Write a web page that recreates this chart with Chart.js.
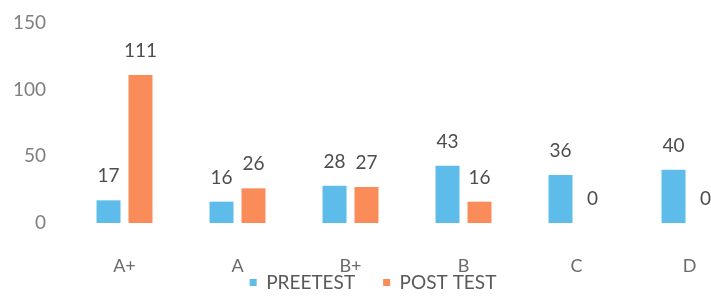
<!DOCTYPE html>
<html>
<head>
<meta charset="utf-8">
<script src="https://cdn.jsdelivr.net/npm/chart.js@4"></script>
<style>
  html, body { margin: 0; padding: 0; background: #fff; overflow: hidden; }
  #wrap { width: 750px; height: 297px; }
</style>
</head>
<body>
<div id="wrap"><canvas id="chart"></canvas></div>
<script>
const grades = ['A+', 'A', 'B+', 'B', 'C', 'D'];
const preTest = [17, 16, 28, 43, 36, 40];
const postTest = [111, 26, 27, 16, 0, 0];
const yTicks = [0, 50, 100, 150];

// draw the value above each bar
const valueLabels = {
  id: 'valueLabels',
  beforeDraw(chart) {
    // x labels sit lower than the squeezed axis box, so don't clip them
    chart.scales.x.bottom = chart.height;
  },
  afterDatasetsDraw(chart) {
    const ctx = chart.ctx;
    ctx.save();
    ctx.font = '19px Lato';
    ctx.fillStyle = '#4d4d4d';
    ctx.textAlign = 'center';
    ctx.textBaseline = 'middle';
    chart.data.datasets.forEach((ds, i) => {
      chart.getDatasetMeta(i).data.forEach((bar, j) => {
        ctx.fillText(ds.data[j], bar.x, bar.y - 24);
      });
    });
    ctx.restore();
  }
};

const ctx = document.getElementById('chart').getContext('2d');
new Chart(ctx, {
  type: 'bar',
  data: {
    labels: grades,
    datasets: [
      {
        label: 'PREETEST',
        data: preTest,
        backgroundColor: '#5dbce9',
        categoryPercentage: 0.566,
        barPercentage: 0.75,
      },
      {
        label: 'POST TEST',
        data: postTest,
        backgroundColor: '#fa8c5a',
        categoryPercentage: 0.566,
        barPercentage: 0.75,
      },
    ],
  },
  options: {
    responsive: true,
    maintainAspectRatio: false,
    animation: false,
    layout: { padding: { top: 0, right: 4, bottom: -5 } },
    plugins: {
      tooltip: { enabled: false },
      legend: {
        position: 'bottom',
        labels: {
          font: { family: 'Lato', size: 19 },
          color: '#595959',
          boxWidth: 7,
          boxHeight: 7,
          padding: 28,
        },
      },
    },
    scales: {
      x: {
        afterFit: (scale) => { scale.height = 22; },
        grid: { display: false, drawTicks: false },
        border: { display: false },
        ticks: { font: { family: 'Lato', size: 18 }, color: '#6b6b6b', padding: 32 },
      },
      y: {
        min: 0,
        max: 150,
        afterBuildTicks: (scale) => { scale.ticks = yTicks.map(v => ({ value: v })); },
        afterFit: (scale) => { scale.width = 68; scale.paddingTop = 23; },
        grid: { display: false, drawTicks: false },
        border: { display: false },
        ticks: { font: { family: 'Lato', size: 19 }, color: '#7f7f7f', padding: 22 },
      },
    },
  },
  plugins: [valueLabels],
});
</script>
</body>
</html>
